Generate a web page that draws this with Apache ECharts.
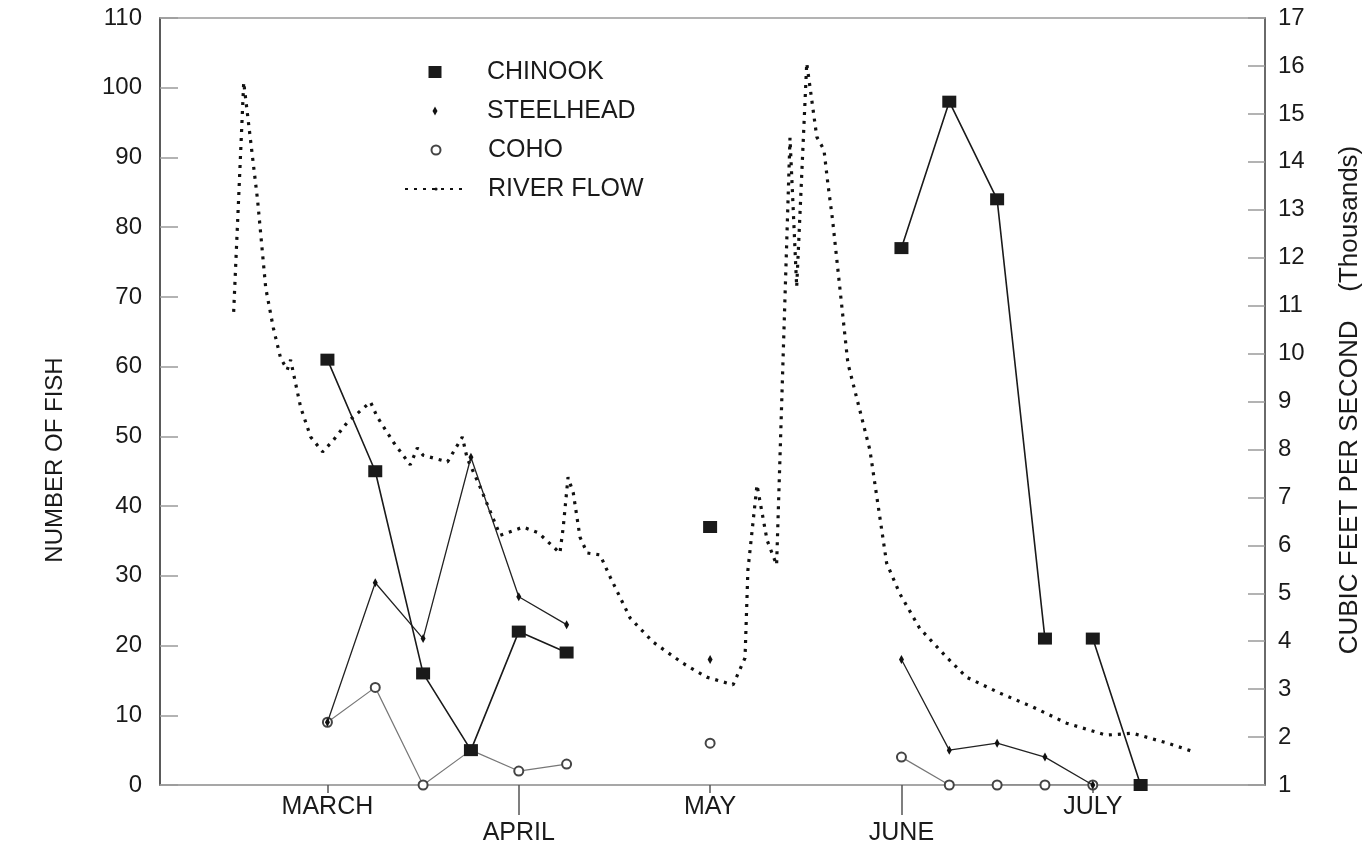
<!DOCTYPE html>
<html>
<head>
<meta charset="utf-8">
<script src="https://cdn.jsdelivr.net/npm/echarts@6/dist/echarts.min.js"></script>
<style>
  html, body { margin: 0; padding: 0; background: #ffffff; }
  #chart { width: 1369px; height: 850px; }
</style>
</head>
<body>
<div id="chart"></div>
<script>
// ---- DATA (x = weeks after the start of March; null = break in the line) ----
const months     = ['MARCH', 'APRIL', 'MAY', 'JUNE', 'JULY'];
const monthTicks = [0, 4, 8, 12, 16];
const fishTicks  = [0, 110, 10];   // min, max, step (NUMBER OF FISH)
const flowTicks  = [1, 17, 1];     // min, max, step (thousand cfs)

const chinook = [[0,61],[1,45],[2,16],[3,5],[4,22],[5,19],null,[8,37],null,
                 [12,77],[13,98],[14,84],[15,21],null,[16,21],[17,0]];
const steelhead = [[0,9],[1,29],[2,21],[3,47],[4,27],[5,23],null,[8,18],null,
                   [12,18],[13,5],[14,6],[15,4],[16,0]];
const coho = [[0,9],[1,14],[2,0],[3,5],[4,2],[5,3],null,[8,6],null,
              [12,4],[13,0],[14,0],[15,0],[16,0]];
const riverFlow = [
  [-1.96,10.87],[-1.75,15.66],[-1.46,13.20],[-1.29,11.37],[-1.13,10.53],[-0.98,9.91],
  [-0.84,9.66],[-0.77,9.87],[-0.56,8.88],[-0.35,8.26],[-0.10,7.95],[0.13,8.20],
  [0.42,8.57],[0.90,8.99],[1.04,8.68],[1.38,8.15],[1.73,7.68],[1.88,8.03],[2.00,7.88],
  [2.51,7.74],[2.82,8.26],[2.92,7.82],[3.19,7.22],[3.61,6.21],[4.09,6.38],[4.41,6.26],
  [4.86,5.84],[4.93,6.38],[5.03,7.42],[5.14,7.09],[5.28,6.17],[5.43,5.84],[5.70,5.80],
  [5.91,5.34],[6.33,4.48],[6.81,3.98],[7.43,3.54],[7.93,3.25],[8.48,3.09],[8.73,3.65],
  [8.79,5.48],[8.98,7.26],[9.19,6.11],[9.39,5.59],[9.67,14.50],[9.81,11.39],[10.02,16.06],
  [10.23,14.52],[10.38,14.25],[10.46,13.56],[10.56,12.79],[10.71,11.39],[10.88,9.80],
  [11.34,7.99],[11.69,5.63],[11.96,5.00],[12.38,4.27],[12.94,3.67],[13.36,3.25],
  [14.05,2.92],[14.74,2.63],[15.45,2.29],[16.28,2.04],[16.83,2.08],[17.54,1.88],[18.06,1.71]
];

// ---- helpers ----
const toSeriesData = arr => arr.map(d => d === null ? ['-', '-'] : d);
const FONT = '"Liberation Sans", Arial, Helvetica, sans-serif';
const TXT = '#1a1a1a';
const upperRow = monthTicks.filter((_, i) => i % 2 === 0);
const lowerRow = monthTicks.filter((_, i) => i % 2 === 1);
const monthName = v => months[monthTicks.indexOf(v)] || '';

const X_MIN = -3.5, X_MAX = 19.6;

const chart = echarts.init(document.getElementById('chart'), null, { renderer: 'canvas' });

// legend: icon centred at x=435, text starting at x=487
const LEG_PAD = 5;
function legendFor(name, centerY, w, h, icon) {
  const iconLeft = 435 - w / 2;
  const textStart = 487;
  const cfg = {
    data: [name], left: iconLeft - LEG_PAD, top: centerY - 15 - LEG_PAD, orient: 'vertical',
    itemWidth: w, itemHeight: h, selectedMode: false,
    textStyle: { fontFamily: FONT, fontSize: 25, color: TXT, lineHeight: 30,
                 padding: [0, 0, 0, textStart - (iconLeft + w + 5)] }
  };
  if (icon) cfg.icon = icon;
  return cfg;
}

chart.setOption({
  animation: false,
  backgroundColor: '#ffffff',
  textStyle: { fontFamily: FONT },
  grid: { left: 160, right: 104, top: 18, bottom: 65, containLabel: false },
  legend: [
    legendFor('CHINOOK', 72, 13, 12, 'rect'),
    legendFor('STEELHEAD', 111, 5, 9, 'diamond'),
    legendFor('COHO', 150, 9, 9, 'emptyCircle'),
    legendFor('RIVER FLOW', 189, 62, 4, null)
  ],
  xAxis: [
    {
      type: 'value', min: X_MIN, max: X_MAX, position: 'bottom',
      splitLine: { show: false },
      axisLine: { show: true, onZero: false, lineStyle: { color: '#8a8a8a', width: 1.5 } },
      axisTick: { show: true, customValues: upperRow, length: 8, lineStyle: { color: '#555', width: 1.5 } },
      axisLabel: { customValues: upperRow, formatter: monthName, fontSize: 25, color: TXT, margin: 10, fontFamily: FONT }
    },
    {
      type: 'value', min: X_MIN, max: X_MAX, position: 'bottom',
      splitLine: { show: false },
      axisLine: { show: false, onZero: false },
      axisTick: { show: true, customValues: lowerRow, length: 30, lineStyle: { color: '#555', width: 1.5 } },
      axisLabel: { customValues: lowerRow, formatter: monthName, fontSize: 25, color: TXT, margin: 36, fontFamily: FONT }
    },
    {
      type: 'value', min: X_MIN, max: X_MAX, position: 'top',
      splitLine: { show: false },
      axisLine: { show: true, onZero: false, lineStyle: { color: '#9a9a9a', width: 1.5 } },
      axisTick: { show: false }, axisLabel: { show: false }
    }
  ],
  yAxis: [
    {
      type: 'value', min: fishTicks[0], max: fishTicks[1], interval: fishTicks[2], position: 'left',
      splitLine: { show: false },
      axisLine: { show: true, onZero: false, lineStyle: { color: '#5a5a5a', width: 2 } },
      axisTick: { show: true, inside: true, length: 18, lineStyle: { color: '#9a9a9a', width: 1.5 } },
      axisLabel: { fontSize: 24, color: TXT, margin: 18, fontFamily: FONT }
    },
    {
      type: 'value', min: flowTicks[0], max: flowTicks[1], interval: flowTicks[2], position: 'right',
      splitLine: { show: false },
      axisLine: { show: true, onZero: false, lineStyle: { color: '#6a6a6a', width: 2 } },
      axisTick: { show: true, inside: true, length: 17, lineStyle: { color: '#9a9a9a', width: 1.5 } },
      axisLabel: { fontSize: 24, color: TXT, margin: 13, fontFamily: FONT }
    }
  ],
  graphic: [
    { type: 'text', x: 55, y: 460, rotation: Math.PI / 2,
      style: { text: 'NUMBER OF FISH', font: '24px ' + FONT, fill: TXT, align: 'center', verticalAlign: 'middle' } },
    { type: 'text', x: 1350, y: 400, rotation: Math.PI / 2,
      style: { text: 'CUBIC FEET PER SECOND    (Thousands)', font: '26px ' + FONT, fill: TXT, align: 'center', verticalAlign: 'middle' } }
  ],
  series: [
    {
      name: 'RIVER FLOW', type: 'line', xAxisIndex: 0, yAxisIndex: 1,
      data: riverFlow, symbol: 'none', showSymbol: false, smooth: false,
      lineStyle: { color: '#111', width: 3.2, type: [3, 6] },
      itemStyle: { color: '#111' }, z: 2
    },
    {
      name: 'COHO', type: 'line', xAxisIndex: 0, yAxisIndex: 0,
      data: toSeriesData(coho), connectNulls: false,
      symbol: 'emptyCircle', symbolSize: 9,
      lineStyle: { color: '#777', width: 1.2 },
      itemStyle: { color: '#444', borderColor: '#444', borderWidth: 1.5 }, z: 3
    },
    {
      name: 'STEELHEAD', type: 'line', xAxisIndex: 0, yAxisIndex: 0,
      data: toSeriesData(steelhead), connectNulls: false,
      symbol: 'diamond', symbolSize: [5, 9],
      lineStyle: { color: '#222', width: 1.3 },
      itemStyle: { color: '#111' }, z: 4
    },
    {
      name: 'CHINOOK', type: 'line', xAxisIndex: 0, yAxisIndex: 0,
      data: toSeriesData(chinook), connectNulls: false,
      symbol: 'rect', symbolSize: [14, 12],
      lineStyle: { color: '#1a1a1a', width: 1.6 },
      itemStyle: { color: '#1a1a1a' }, z: 5
    }
  ]
});
</script>
</body>
</html>
